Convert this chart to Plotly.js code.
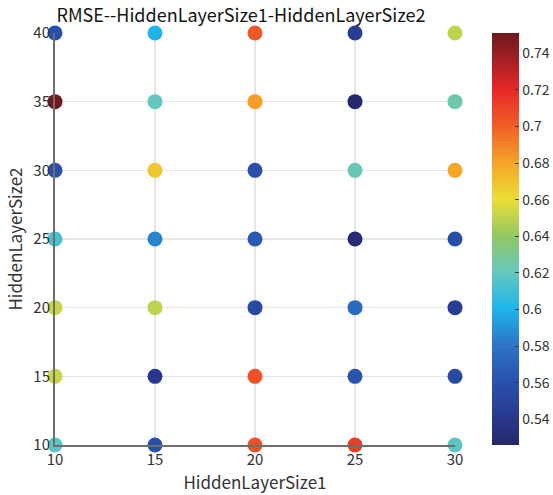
<!DOCTYPE html>
<html>
<head>
<meta charset="utf-8">
<script src="https://cdn.plot.ly/plotly-3.0.1.min.js"></script>
<style>html,body{margin:0;padding:0;background:#fff;}#chart{width:553px;height:495px;}</style>
</head>
<body>
<div id="chart"></div>
<script>
// Data
const hiddenLayerSize1 = [10, 15, 20, 25, 30];
const hiddenLayerSize2 = [10, 15, 20, 25, 30, 35, 40];
// RMSE per HiddenLayerSize1 column, ordered by HiddenLayerSize2 = 10..40
const rmse10 = [0.618, 0.652, 0.652, 0.612, 0.560, 0.751, 0.560];
const rmse15 = [0.560, 0.540, 0.650, 0.585, 0.668, 0.620, 0.600];
const rmse20 = [0.705, 0.705, 0.555, 0.565, 0.558, 0.682, 0.702];
const rmse25 = [0.712, 0.562, 0.575, 0.530, 0.622, 0.528, 0.545];
const rmse30 = [0.618, 0.555, 0.545, 0.558, 0.680, 0.625, 0.650];
const rmseColumns = [rmse10, rmse15, rmse20, rmse25, rmse30];
const colorTicks = [0.54, 0.56, 0.58, 0.60, 0.62, 0.64, 0.66, 0.68, 0.70, 0.72, 0.74];
const colorTickText = ['0.54','0.56','0.58','0.6','0.62','0.64','0.66','0.68','0.7','0.72','0.74'];

const xs = [], ys = [], cs = [];
hiddenLayerSize1.forEach((h1, i) => {
  hiddenLayerSize2.forEach((h2, j) => {
    xs.push(h1); ys.push(h2); cs.push(rmseColumns[i][j]);
  });
});

const cmin = 0.526, cmax = 0.751;
const scale = [
  [0.000, 'rgb(38,38,105)'],
  [0.062, 'rgb(40,55,140)'],
  [0.151, 'rgb(40,80,170)'],
  [0.240, 'rgb(45,115,195)'],
  [0.329, 'rgb(30,180,235)'],
  [0.418, 'rgb(100,200,190)'],
  [0.507, 'rgb(145,200,100)'],
  [0.596, 'rgb(235,222,55)'],
  [0.684, 'rgb(245,165,40)'],
  [0.773, 'rgb(240,95,40)'],
  [0.862, 'rgb(230,40,40)'],
  [0.951, 'rgb(150,30,35)'],
  [1.000, 'rgb(110,25,30)']
];

const font = "'Noto Sans CJK JP', 'Noto Sans', sans-serif";

const trace = {
  type: 'scatter', mode: 'markers',
  x: xs, y: ys,
  cliponaxis: false,
  marker: {
    size: 15, color: cs, cmin: cmin, cmax: cmax, colorscale: scale,
    line: {width: 0},
    showscale: true,
    colorbar: {
      x: 1.0925, xanchor: 'left', xpad: 0, ypad: 0,
      y: 0.5, yanchor: 'middle', len: 1.0, lenmode: 'fraction',
      thickness: 27, outlinewidth: 0,
      ticks: 'inside', ticklen: 4, tickcolor: 'rgb(60,60,60)',
      tickvals: colorTicks, ticktext: colorTickText,
      tickfont: {family: font, size: 14, color: 'rgb(50,50,50)'}
    }
  },
  showlegend: false, hoverinfo: 'x+y+text', text: cs.map(String)
};

const layout = {
  width: 553, height: 495,
  margin: {l: 55, r: 98, t: 33, b: 50, autoexpand: false},
  paper_bgcolor: '#fff', plot_bgcolor: '#fff',
  title: {text: 'RMSE--HiddenLayerSize1-HiddenLayerSize2', font: {family: font, size: 18, color: 'rgb(20,20,20)'},
    xref: 'paper', x: 0.465, xanchor: 'center', yref: 'container', y: 0.968, yanchor: 'middle'},
  xaxis: {
    range: [10, 30], tickvals: hiddenLayerSize1, ticks: '', showgrid: true, gridcolor: 'rgb(230,230,232)', gridwidth: 1.5,
    zeroline: false, showline: true, linecolor: 'rgb(110,110,110)', linewidth: 2,
    tickfont: {family: font, size: 15, color: 'rgb(50,50,50)'},
    title: {text: 'HiddenLayerSize1', font: {family: font, size: 17, color: 'rgb(50,50,50)'}, standoff: 4}
  },
  yaxis: {
    range: [10, 40], tickvals: hiddenLayerSize2, ticks: '', showgrid: true, gridcolor: 'rgb(230,230,232)', gridwidth: 1.5,
    zeroline: false, showline: true, linecolor: 'rgb(110,110,110)', linewidth: 2,
    tickfont: {family: font, size: 15, color: 'rgb(50,50,50)'},
    title: {text: 'HiddenLayerSize2', font: {family: font, size: 17, color: 'rgb(50,50,50)'}, standoff: 6}
  }
};

Plotly.newPlot('chart', [trace], layout, {displayModeBar: false, staticPlot: true});
</script>
</body>
</html>
